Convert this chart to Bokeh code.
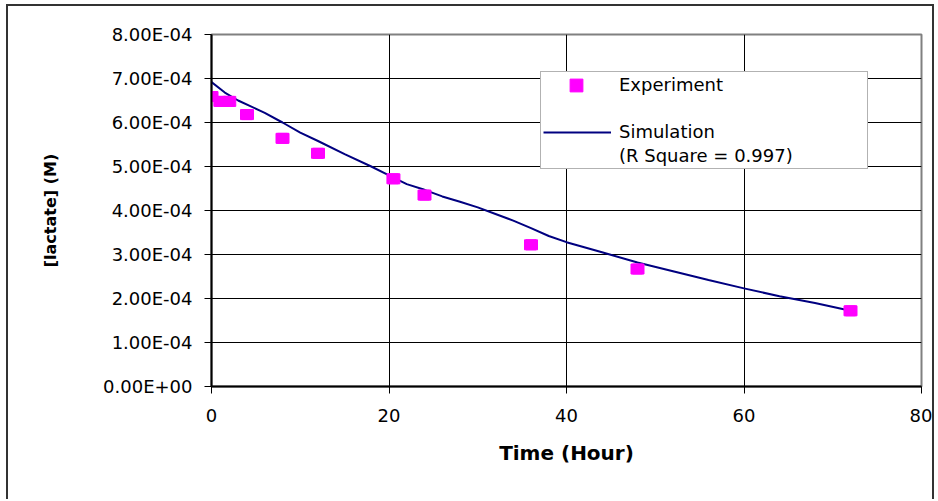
from bokeh.plotting import figure
from bokeh.models import Range1d, FixedTicker, Legend, LegendItem, ColumnDataSource
from bokeh.embed import file_html
from bokeh.resources import INLINE

# ---- data ----
t_exp = [0, 1, 2, 4, 8, 12, 20.5, 24, 36, 48, 72]
c_exp = [6.59e-4, 6.48e-4, 6.48e-4, 6.18e-4, 5.64e-4, 5.30e-4, 4.72e-4, 4.35e-4, 3.22e-4, 2.67e-4, 1.72e-4]

t_sim = [0, 1.5, 3, 6, 8, 10, 12, 15, 18, 20, 22, 24, 26, 28, 30, 32, 34, 36, 38, 40,
         44, 48, 52, 56, 60, 64, 68, 72]
c_sim = [6.92e-4, 6.68e-4, 6.50e-4, 6.22e-4, 6.00e-4, 5.77e-4, 5.58e-4, 5.28e-4, 5.00e-4,
         4.80e-4, 4.60e-4, 4.47e-4, 4.32e-4, 4.20e-4, 4.07e-4, 3.92e-4, 3.77e-4, 3.60e-4,
         3.42e-4, 3.28e-4, 3.05e-4, 2.82e-4, 2.62e-4, 2.42e-4, 2.23e-4, 2.05e-4, 1.90e-4, 1.72e-4]

x_ticks = [0, 20, 40, 60, 80]
y_ticks = [0.0, 1e-4, 2e-4, 3e-4, 4e-4, 5e-4, 6e-4, 7e-4, 8e-4]
y_tick_labels = ["0.00E+00", "1.00E-04", "2.00E-04", "3.00E-04", "4.00E-04",
                 "5.00E-04", "6.00E-04", "7.00E-04", "8.00E-04"]

exp_label = "Experiment"
sim_label = "Simulation"
fit_label = "(R Square = 0.997)"
x_title = "Time (Hour)"
y_title = "[lactate] (M)"

FONT = "DejaVu Sans"

p = figure(width=928, height=495, output_backend="svg", toolbar_location=None,
           x_range=Range1d(0, 80), y_range=Range1d(0, 8e-4),
           min_border_left=203, min_border_right=15, min_border_top=28, min_border_bottom=115)
p.styles = {"margin-left": "6px", "margin-top": "4px",
            "border-left": "2px solid #333333", "border-top": "2px solid #333333",
            "border-right": "2px solid #333333"}

p.background_fill_color = "white"
p.border_fill_color = "white"
p.outline_line_color = "#808080"
p.outline_line_width = 2

p.xaxis.ticker = FixedTicker(ticks=x_ticks)
p.yaxis.ticker = FixedTicker(ticks=y_ticks)
p.yaxis.major_label_overrides = dict(zip(y_ticks, y_tick_labels))

for ax in (p.xaxis, p.yaxis):
    ax.axis_line_color = "black"
    ax.axis_line_width = 2
    ax.major_tick_line_color = "black"
    ax.major_tick_line_width = 1
    ax.major_tick_out = 7
    ax.major_tick_in = 0
    ax.minor_tick_line_color = None
    ax.major_label_text_font = FONT
    ax.major_label_text_font_size = "18px"
    ax.major_label_text_color = "black"
    ax.axis_label_text_font = FONT
    ax.axis_label_text_font_style = "bold"
    ax.axis_label_text_color = "black"

p.xaxis.major_label_standoff = 15
p.yaxis.major_label_standoff = 12
p.xaxis.axis_label = x_title
p.xaxis.axis_label_text_font_size = "20px"
p.xaxis.axis_label_standoff = 16
p.yaxis.axis_label = y_title
p.yaxis.axis_label_text_font_size = "16px"
p.yaxis.axis_label_standoff = 40

p.xgrid.grid_line_color = "black"
p.xgrid.grid_line_width = 1
p.ygrid.grid_line_color = "black"
p.ygrid.grid_line_width = 1

exp_src = ColumnDataSource(dict(t=t_exp, c=c_exp))
sim_src = ColumnDataSource(dict(t=t_sim, c=c_sim))

sim_r = p.line("t", "c", source=sim_src, line_color="#000080", line_width=2)
# square markers (also provide the legend swatch); covered by the wider rects below
swatch = p.scatter("t", "c", source=exp_src, marker="square", size=10,
                   fill_color="#FF00FF", line_color="#FF00FF")
exp_r = p.rect("t", "c", source=exp_src, width=13, height=10,
               width_units="screen", height_units="screen",
               fill_color="#FF00FF", line_color="#FF00FF")

dummy = p.line(x=[], y=[], line_alpha=0)

legA = Legend(items=[LegendItem(label=exp_label, renderers=[dummy]),
                     LegendItem(label=" ", renderers=[dummy]),
                     LegendItem(label=sim_label, renderers=[sim_r]),
                     LegendItem(label=fit_label, renderers=[dummy])],
              location=(329, 217), padding=2, spacing=3, margin=0,
              glyph_width=68, glyph_height=20, label_height=20, label_width=246,
              label_standoff=8, label_text_font=FONT, label_text_font_size="18px",
              label_text_color="black",
              border_line_color="#666666", border_line_width=1.5,
              background_fill_color="white", background_fill_alpha=1)
p.add_layout(legA)

legB = Legend(items=[LegendItem(label=" ", renderers=[swatch])],
              location=(349, 285), padding=0, spacing=0, margin=0,
              glyph_width=32, glyph_height=32, label_height=20, label_width=0,
              label_standoff=0, label_text_font_size="1px",
              border_line_alpha=0, background_fill_alpha=0)
p.add_layout(legB)

open("out.html", "w").write(file_html(p, INLINE))
